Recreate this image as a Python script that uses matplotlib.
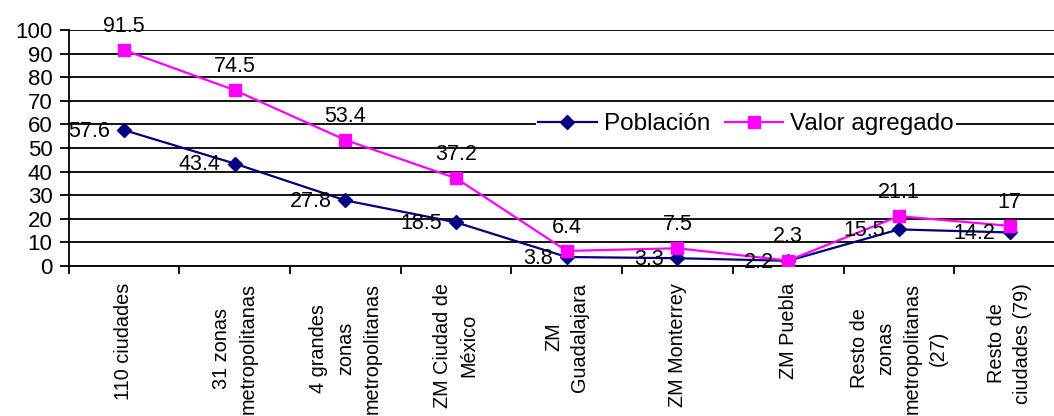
import matplotlib.pyplot as plt

plt.rcParams['font.family'] = ['Liberation Sans', 'DejaVu Sans']

# categorías (eje x) y series
categorias = [
    "110 ciudades",
    "31 zonas\nmetropolitanas",
    "4 grandes\nzonas\nmetropolitanas",
    "ZM Ciudad de\nMéxico",
    "ZM\nGuadalajara",
    "ZM Monterrey",
    "ZM Puebla",
    "Resto de\nzonas\nmetropolitanas\n(27)",
    "Resto de\nciudades (79)",
]
poblacion = [57.6, 43.4, 27.8, 18.5, 3.8, 3.3, 2.2, 15.5, 14.2]
valor_agregado = [91.5, 74.5, 53.4, 37.2, 6.4, 7.5, 2.3, 21.1, 17]

AZUL = "#000080"
ROSA = "#FF00FF"


def etiqueta(v):
    return f"{v:g}"


def main():
    fig = plt.figure(figsize=(10.54, 4.16), dpi=100)
    ax = fig.add_axes([0.065, 0.3606, 0.9454, 0.5674])

    x = list(range(len(categorias)))
    ax.plot(x, poblacion, color=AZUL, lw=1.6, marker="D", ms=7,
            mfc=AZUL, mec=AZUL, label="Población", zorder=3)
    ax.plot(x, valor_agregado, color=ROSA, lw=1.6, marker="s", ms=9,
            mfc=ROSA, mec=ROSA, label="Valor agregado", zorder=3)

    for xi, v in zip(x, poblacion):
        ax.annotate(etiqueta(v), (xi, v), xytext=(-10, -1),
                    textcoords="offset points", ha="right", va="center",
                    fontsize=15.5, zorder=4)
    for xi, v in zip(x, valor_agregado):
        ax.annotate(etiqueta(v), (xi, v), xytext=(0, 17),
                    textcoords="offset points", ha="center", va="center",
                    fontsize=15.5, zorder=4)

    ax.set_xlim(-0.5, len(categorias) - 0.5)
    ax.set_ylim(0, 100)
    ax.set_yticks(range(0, 101, 10))
    ax.yaxis.grid(True, color="black", lw=1.3)
    ax.set_axisbelow(True)

    # etiquetas en el centro de cada categoría, marcas en los límites
    ax.set_xticks(x)
    ax.set_xticklabels(categorias, rotation=90, ha="center", va="top",
                       multialignment="center", fontsize=14.3,
                       linespacing=1.5)
    ax.set_xticks([i - 0.5 for i in range(len(categorias) + 1)], minor=True)
    ax.tick_params(axis="x", which="major", length=0, pad=12)
    ax.tick_params(axis="x", which="minor", length=6, width=1.3,
                   color="black", direction="out")
    ax.tick_params(axis="y", length=6.5, width=1.3, labelsize=16, pad=5)

    for lado in ["top", "right"]:
        ax.spines[lado].set_visible(False)
    ax.spines["left"].set_linewidth(1.3)
    ax.spines["bottom"].set_linewidth(1.3)

    leg = ax.legend(loc="center", bbox_to_anchor=(0.68, 0.6), ncol=2,
                    frameon=True, fontsize=17.5, handlelength=2.4,
                    columnspacing=0.6, handletextpad=0.3,
                    borderpad=0.1, borderaxespad=0)
    leg.get_frame().set_facecolor("white")
    leg.get_frame().set_edgecolor("none")
    leg.get_frame().set_alpha(1)

    fig.savefig("out.png", dpi=100)


if __name__ == "__main__":
    main()
